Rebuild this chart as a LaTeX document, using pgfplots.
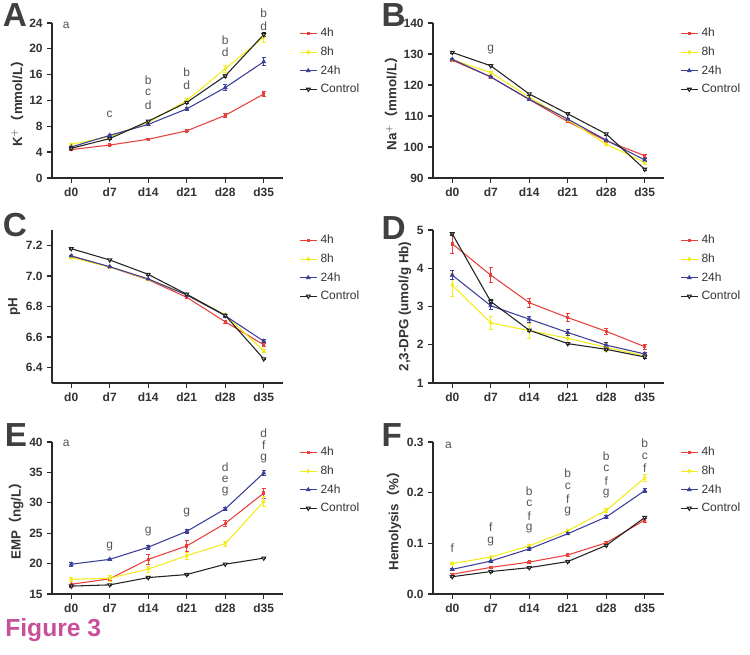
\documentclass[border=0pt]{standalone}
\usepackage{pgfplots}
\pgfplotsset{compat=1.18}
\usepackage{pgfplotstable}
\usepackage{fontspec}
\setmainfont{Liberation Sans}
\newfontfamily\cjk{Noto Sans CJK SC}
\definecolor{cR}{HTML}{E8403A}
\definecolor{cY}{HTML}{F2EC1A}
\definecolor{cB}{HTML}{3C3F98}
\definecolor{cK}{HTML}{222222}
\definecolor{axg}{HTML}{2A2A2A}
\definecolor{txg}{HTML}{333333}
\definecolor{ang}{HTML}{555555}
\definecolor{figc}{HTML}{C8509A}
\definecolor{letc}{HTML}{404040}

\pgfplotstableread{
x r re y ye b be k ke
0 4.4 0.1 5.2 0.15 4.8 0.1 4.6 0.1
1 5.1 0.1 6.4 0.15 6.6 0.15 6.1 0.1
2 6.0 0.1 8.6 0.2 8.3 0.2 8.8 0.1
3 7.3 0.15 12.0 0.3 10.7 0.3 11.7 0.15
4 9.7 0.3 16.9 0.6 14.0 0.5 15.8 0.2
5 13.0 0.4 21.8 0.8 18.0 0.6 22.2 0.3
}\tA
\pgfplotstableread{
x r re y ye b be k ke
0 128.0 0.3 128.2 0.3 128.3 0.3 130.5 0.3
1 122.6 0.3 124.0 0.5 122.6 0.3 126.2 0.3
2 115.3 0.3 116.1 0.4 115.4 0.3 117.1 0.3
3 108.2 0.3 108.8 0.4 109.0 0.3 110.7 0.3
4 102.0 0.4 100.9 0.5 102.2 0.4 104.2 0.3
5 97.2 0.5 95.0 0.5 95.8 0.5 92.8 0.3
}\tB
\pgfplotstableread{
x r re y ye b be k ke
0 7.130 0.005 7.120 0.005 7.130 0.005 7.178 0.005
1 7.058 0.005 7.058 0.005 7.060 0.005 7.104 0.005
2 6.975 0.005 6.978 0.005 6.980 0.005 7.010 0.005
3 6.860 0.008 6.880 0.008 6.875 0.008 6.880 0.005
4 6.700 0.012 6.745 0.010 6.740 0.010 6.742 0.005
5 6.550 0.012 6.510 0.012 6.573 0.010 6.457 0.005
}\tC
\pgfplotstableread{
x r re y ye b be k ke
0 4.64 0.25 3.56 0.30 3.82 0.12 4.90 0.05
1 3.82 0.20 2.57 0.17 3.02 0.10 3.13 0.05
2 3.10 0.12 2.37 0.20 2.67 0.08 2.38 0.03
3 2.71 0.10 2.17 0.10 2.32 0.07 2.03 0.03
4 2.35 0.08 1.93 0.10 1.99 0.06 1.88 0.03
5 1.95 0.06 1.71 0.06 1.76 0.05 1.68 0.03
}\tD
\pgfplotstableread{
x r re y ye b be k ke
0 16.6 0.5 17.4 0.4 19.9 0.3 16.3 0.1
1 17.5 0.3 17.6 0.5 20.7 0.2 16.5 0.1
2 20.7 0.8 19.1 0.5 22.7 0.3 17.7 0.1
3 22.9 0.9 21.3 0.6 25.3 0.3 18.2 0.1
4 26.6 0.5 23.3 0.4 29.0 0.3 19.9 0.1
5 31.6 0.8 30.2 0.8 34.9 0.4 20.9 0.1
}\tE
\pgfplotstableread{
x r re y ye b be k ke
0 0.0390 0.002 0.0600 0.002 0.0486 0.002 0.0341 0.001
1 0.0525 0.002 0.0730 0.002 0.0650 0.002 0.0443 0.001
2 0.0630 0.002 0.0950 0.002 0.0890 0.002 0.0520 0.001
3 0.0770 0.002 0.1250 0.003 0.1190 0.002 0.0640 0.001
4 0.1010 0.003 0.1650 0.004 0.1520 0.003 0.0960 0.002
5 0.1460 0.004 0.2290 0.007 0.2040 0.004 0.1510 0.002
}\tF

\newcommand{\fs}{\fontsize{9}{10}\selectfont}
\tikzset{ann/.style={font=\fs, text=ang, inner sep=0pt}}
\pgfplotsset{
  gp/.style={
    scale only axis, width=173.25pt,
    axis lines=left, axis line style={-, line width=1.1pt, color=axg},
    xmin=-0.5, xmax=5.5, xtick={0,...,5},
    xticklabels={d0,d7,d14,d21,d28,d35},
    tick align=outside, major tick length=3.5pt,
    tick style={line width=1pt, color=axg},
    ticklabel style={font=\bfseries\fs, text=txg},
    yticklabel style={/pgf/number format/assume math mode=true},
    ylabel style={font=\bfseries\fontsize{10}{11}\selectfont, text=txg},
    ylabel shift=-2.5pt,
    clip=false,
    legend style={draw=none, fill=none, at={(1.07,0.985)}, anchor=north west,
      font=\fs, text=txg, inner sep=0pt, row sep=1.9pt,
      nodes={inner xsep=2.5pt},
      cells={anchor=west}},
    legend image code/.code={\draw[mark repeat=2,mark phase=2,##1] plot coordinates {(0cm,0cm) (0.22cm,0cm) (0.44cm,0cm)};},
    error bars/error bar style={line width=0.6pt},
    error bars/error mark options={rotate=90, mark size=1.6pt, line width=0.6pt},
  },
  sr/.style={color=cR, line width=0.8pt, mark=square*, mark size=0.9pt},
  sy/.style={color=cY, line width=0.8pt, mark=diamond*, mark size=1.2pt},
  sb/.style={color=cB, line width=0.8pt, mark=triangle*, mark size=1.4pt},
  sk/.style={color=cK, line width=0.8pt, mark=triangle*, mark size=1.6pt, mark options={rotate=180, fill=white}},
}
\newcommand{\fourplots}[1]{%
  \addplot[sr, error bars/.cd, y dir=both, y explicit] table[x=x, y=r, y error=re] {#1};
  \addplot[sy, error bars/.cd, y dir=both, y explicit] table[x=x, y=y, y error=ye] {#1};
  \addplot[sb, error bars/.cd, y dir=both, y explicit] table[x=x, y=b, y error=be] {#1};
  \addplot[sk, error bars/.cd, y dir=both, y explicit] table[x=x, y=k, y error=ke] {#1};
  \legend{4h,8h,24h,Control}}

\begin{document}
\begin{tikzpicture}
\path (0,0) rectangle (562.5pt,490.5pt);

% A
\begin{axis}[gp, at={(39pt,357pt)}, anchor=south west, height=116.25pt,
  ymin=0, ymax=24, ytick={0,4,8,12,16,20,24},
  ylabel={K$^{+}${\cjk （}mmol/L{\cjk ）}}]
\fourplots{\tA}
\node[ann] at (axis cs:-0.13,23.7) {a};
\node[ann] at (axis cs:1,9.9) {c};
\node[ann] at (axis cs:2,15.2) {b};
\node[ann] at (axis cs:2,13.2) {c};
\node[ann] at (axis cs:2,11.3) {d};
\node[ann] at (axis cs:3,16.4) {b};
\node[ann] at (axis cs:3,14.4) {d};
\node[ann] at (axis cs:4,21.4) {b};
\node[ann] at (axis cs:4,19.5) {d};
\node[ann] at (axis cs:5,25.5) {b};
\node[ann] at (axis cs:5,23.5) {d};
\end{axis}

% B
\begin{axis}[gp, at={(324.75pt,357pt)}, anchor=south west, height=116.25pt,
  ymin=90, ymax=140, ytick={90,100,...,140},
  ylabel={Na$^{+}${\cjk （}mmol/L{\cjk ）}}]
\fourplots{\tB}
\node[ann] at (axis cs:1,131.6) {g};
\end{axis}

% C
\begin{axis}[gp, at={(39pt,203.25pt)}, anchor=south west, height=114.75pt,
  ymin=6.3, ymax=7.3, ytick={6.4,6.6,6.8,7.0,7.2},
  yticklabel style={/pgf/number format/fixed, /pgf/number format/fixed zerofill, /pgf/number format/precision=1},
  ylabel={pH}]
\fourplots{\tC}
\end{axis}

% D
\begin{axis}[gp, at={(324.75pt,203.25pt)}, anchor=south west, height=114.75pt,
  ymin=1, ymax=5, ytick={1,2,3,4,5},
  ylabel={2,3-DPG (umol/g Hb)}]
\fourplots{\tD}
\end{axis}

% E
\begin{axis}[gp, at={(39pt,45pt)}, anchor=south west, height=114pt,
  ymin=15, ymax=40, ytick={15,20,...,40},
  ylabel={EMP{\cjk （}ng/L{\cjk ）}}]
\fourplots{\tE}
\node[ann] at (axis cs:-0.13,39.7) {a};
\node[ann] at (axis cs:1,22.8) {g};
\node[ann] at (axis cs:2,25.2) {g};
\node[ann] at (axis cs:3,28.35) {g};
\node[ann] at (axis cs:4,35.9) {d};
\node[ann] at (axis cs:4,33.9) {e};
\node[ann] at (axis cs:4,31.8) {g};
\node[ann] at (axis cs:5,41.4) {d};
\node[ann] at (axis cs:5,39.4) {f};
\node[ann] at (axis cs:5,37.3) {g};
\end{axis}

% F
\begin{axis}[gp, at={(324.75pt,45pt)}, anchor=south west, height=114pt,
  ymin=0, ymax=0.3, ytick={0,0.1,0.2,0.3},
  yticklabel style={/pgf/number format/fixed, /pgf/number format/fixed zerofill, /pgf/number format/precision=1},
  ylabel={Hemolysis{\cjk （}\%{\cjk ）}}]
\fourplots{\tF}
\node[ann] at (axis cs:-0.1,0.293) {a};
\node[ann] at (axis cs:0,0.090) {f};
\node[ann] at (axis cs:1,0.131) {f};
\node[ann] at (axis cs:1,0.104) {g};
\node[ann] at (axis cs:2,0.2035) {b};
\node[ann] at (axis cs:2,0.1785) {c};
\node[ann] at (axis cs:2,0.154) {f};
\node[ann] at (axis cs:2,0.129) {g};
\node[ann] at (axis cs:3,0.2376) {b};
\node[ann] at (axis cs:3,0.2127) {c};
\node[ann] at (axis cs:3,0.188) {f};
\node[ann] at (axis cs:3,0.1634) {g};
\node[ann] at (axis cs:4,0.2718) {b};
\node[ann] at (axis cs:4,0.2475) {c};
\node[ann] at (axis cs:4,0.223) {f};
\node[ann] at (axis cs:4,0.1976) {g};
\node[ann] at (axis cs:5,0.298) {b};
\node[ann] at (axis cs:5,0.272) {c};
\node[ann] at (axis cs:5,0.249) {f};
\end{axis}

% panel letters
\begin{scope}[every node/.style={font=\bfseries\fontsize{25}{26}\selectfont, text=letc, inner sep=0pt, anchor=base west}]
\node at (2pt,470.25pt) {A};
\node at (286pt,470.25pt) {B};
\node at (2pt,312.75pt) {C};
\node at (286pt,310.5pt) {D};
\node at (3.5pt,155.25pt) {E};
\node at (286pt,155.25pt) {F};
\end{scope}
\node[font=\bfseries\fontsize{18.5}{20}\selectfont, text=figc, inner sep=0pt, anchor=base west] at (3.75pt,13.5pt) {Figure 3};
\end{tikzpicture}
\end{document}
